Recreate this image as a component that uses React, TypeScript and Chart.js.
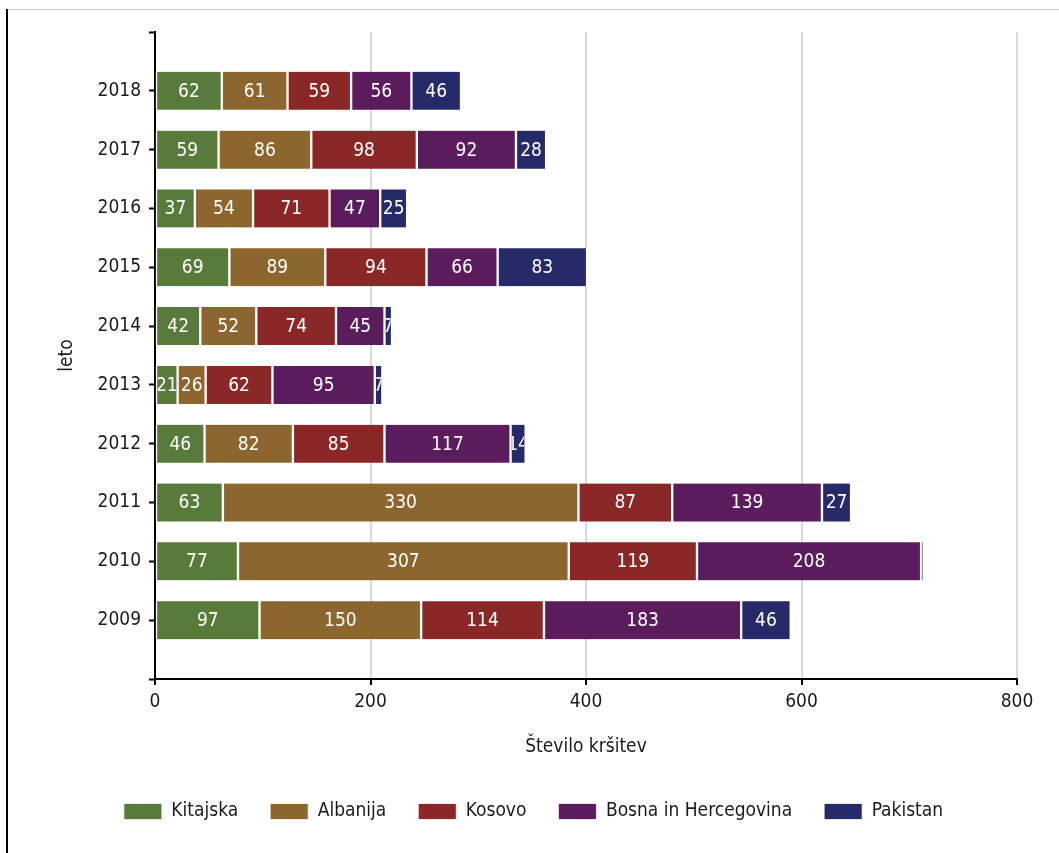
import React, { useEffect, useRef } from 'react';
import { Chart, registerables } from 'chart.js';

Chart.register(...registerables);

const years = ['2018', '2017', '2016', '2015', '2014', '2013', '2012', '2011', '2010', '2009'];
const kitajska = [62, 59, 37, 69, 42, 21, 46, 63, 77, 97];
const albanija = [61, 86, 54, 89, 52, 26, 82, 330, 307, 150];
const kosovo = [59, 98, 71, 94, 74, 62, 85, 87, 119, 114];
const bosna = [56, 92, 47, 66, 45, 95, 117, 139, 208, 183];
const pakistan = [46, 28, 25, 83, 7, 7, 14, 27, 2, 46];

const seriesNames = ['Kitajska', 'Albanija', 'Kosovo', 'Bosna in Hercegovina', 'Pakistan'];
const seriesValues = [kitajska, albanija, kosovo, bosna, pakistan];
const seriesColors = ['#587a3a', '#8c662e', '#8a2828', '#5a1c5c', '#262a68'];

const FONT = "'DejaVu Sans Condensed', 'DejaVu Sans', sans-serif";

const framePlugin = {
  id: 'frame',
  afterLayout(chart: any) {
    if (chart.legend) {
      chart.legend.left += 25;
      chart.legend.right += 25;
    }
  },
  beforeDraw(chart: any) {
    const ctx = chart.ctx;
    ctx.save();
    ctx.fillStyle = '#ffffff';
    ctx.fillRect(0, 0, chart.width, chart.height);
    ctx.strokeStyle = '#c8c8c8';
    ctx.lineWidth = 1;
    ctx.beginPath();
    ctx.moveTo(7, 9.5);
    ctx.lineTo(chart.width, 9.5);
    ctx.stroke();
    ctx.strokeStyle = '#000000';
    ctx.lineWidth = 2;
    ctx.beginPath();
    ctx.moveTo(7, 9);
    ctx.lineTo(7, chart.height);
    ctx.stroke();
    ctx.restore();
  },
};

const labelPlugin = {
  id: 'barLabels',
  afterDatasetsDraw(chart: any) {
    const ctx = chart.ctx;
    ctx.save();
    ctx.font = `19px ${FONT}`;
    ctx.fillStyle = '#ffffff';
    ctx.textAlign = 'center';
    ctx.textBaseline = 'middle';
    chart.data.datasets.forEach((ds: any, di: number) => {
      const meta = chart.getDatasetMeta(di);
      meta.data.forEach((el: any, i: number) => {
        const v = ds.data[i];
        if (v === null || v === undefined) return;
        const { x, y, base, height } = el.getProps(['x', 'y', 'base', 'height'], true);
        const left = Math.min(x, base);
        const w = Math.abs(x - base);
        ctx.save();
        ctx.beginPath();
        ctx.rect(left + 1.5, y - height / 2, Math.max(w - 3, 0), height);
        ctx.clip();
        ctx.fillText(String(v), left + w / 2, y + 1);
        ctx.restore();
      });
    });
    ctx.restore();
  },
};

export default function App() {
  const ref = useRef<HTMLCanvasElement | null>(null);

  useEffect(() => {
    if (!ref.current) return;
    const labels = ['', ...years, ''];
    const chart = new Chart(ref.current, {
      type: 'bar',
      data: {
        labels,
        datasets: seriesNames.map((name, i) => ({
          label: name,
          data: [null, ...seriesValues[i], null],
          backgroundColor: seriesColors[i],
          borderColor: '#ffffff',
          borderWidth: { top: 0, bottom: 0, left: 1.5, right: 1.5 },
          borderSkipped: false,
          barThickness: 38,
        })),
      },
      options: {
        indexAxis: 'y',
        animation: false,
        responsive: false,
        maintainAspectRatio: false,
        layout: { padding: { top: 32, right: 42, left: 0, bottom: 22 } },
        font: { family: FONT, size: 19 },
        plugins: {
          legend: {
            position: 'bottom',
            labels: {
              boxWidth: 38,
              boxHeight: 16,
              padding: 32,
              color: '#1a1a1a',
              font: { family: FONT, size: 19 },
            },
          },
          tooltip: { enabled: false },
        },
        scales: {
          x: {
            type: 'linear',
            stacked: true,
            min: 0,
            max: 800,
            ticks: { stepSize: 200, color: '#1a1a1a', font: { family: FONT, size: 19 }, padding: 6 },
            grid: { color: '#d9d9d9', lineWidth: 2, tickColor: '#000000', tickLength: 6, tickWidth: 2 },
            border: { color: '#000000', width: 2 },
            title: {
              display: true,
              text: 'Število kršitev',
              color: '#1a1a1a',
              font: { family: FONT, size: 19 },
              padding: { top: 0, bottom: 12 },
            },
            afterFit: (scale: any) => {
              scale.height = 91;
            },
          },
          y: {
            type: 'category',
            stacked: true,
            offset: false,
            ticks: { color: '#1a1a1a', font: { family: FONT, size: 19 }, padding: 8, autoSkip: false },
            grid: { drawOnChartArea: false, offset: false, tickColor: '#000000', tickLength: 6, tickWidth: 2 },
            border: { color: '#000000', width: 2 },
            title: {
              display: true,
              text: 'leto',
              color: '#1a1a1a',
              font: { family: FONT, size: 19 },
              padding: { top: 56, bottom: 0 },
            },
            afterFit: (scale: any) => {
              scale.width = 155;
            },
          },
        },
      } as any,
      plugins: [framePlugin, labelPlugin],
    });
    return () => chart.destroy();
  }, []);

  return (
    <div style={{ position: 'absolute', left: 0, top: 0, width: 1059, height: 853 }}>
      <canvas ref={ref} width={1059} height={853} style={{ width: 1059, height: 853, display: 'block' }} />
    </div>
  );
}
